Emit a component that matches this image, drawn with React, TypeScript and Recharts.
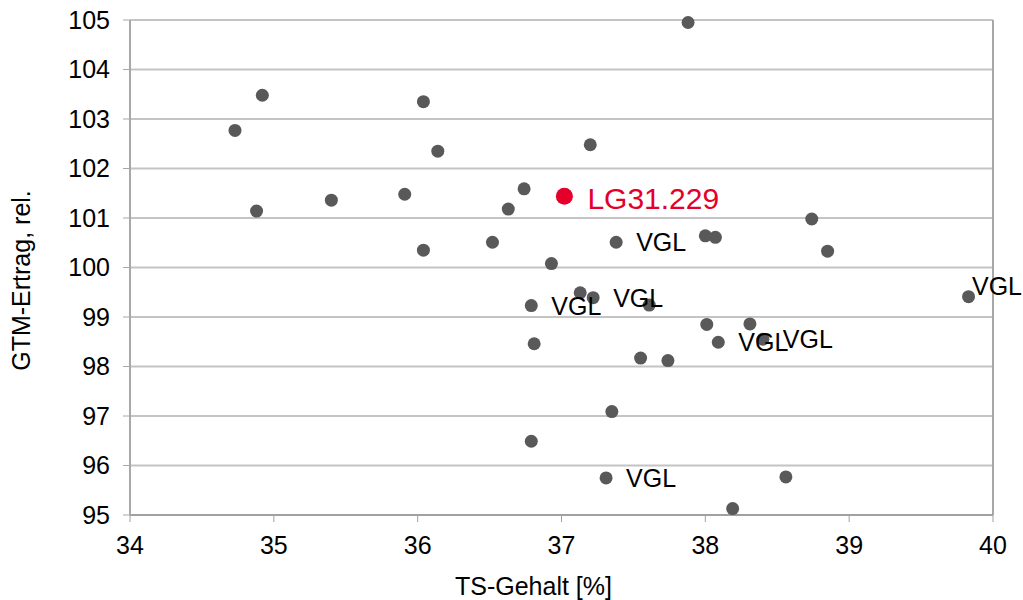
import React from "react";
import {
  ScatterChart, Scatter, XAxis, YAxis, CartesianGrid, ReferenceLine, LabelList, Label,
} from "recharts";

// TS-Gehalt [%] and GTM-Ertrag (rel.) per variety
const tsGehalt = [
  37.88, 34.92, 36.04, 34.73, 36.14, 37.2, 36.74, 35.91, 35.4, 34.88, 36.63, 38.74,
  36.52, 36.04, 37.38, 38.0, 38.07, 38.85, 36.93, 39.83, 37.13, 37.22, 36.79, 37.61,
  38.01, 38.31, 38.4, 38.09, 36.81, 37.55, 37.74, 37.35, 36.79, 37.31, 38.56, 38.19,
];
const gtmErtrag = [
  104.95, 103.48, 103.35, 102.77, 102.35, 102.48, 101.59, 101.48, 101.36, 101.14, 101.18, 100.98,
  100.51, 100.35, 100.51, 100.64, 100.61, 100.33, 100.08, 99.41, 99.49, 99.39, 99.23, 99.24,
  98.85, 98.86, 98.55, 98.49, 98.46, 98.17, 98.12, 97.09, 96.49, 95.75, 95.77, 95.13,
];
const pointLabels = [
  "", "", "", "", "", "", "", "", "", "", "", "",
  "", "", "VGL", "", "", "", "", "VGL", "", "VGL", "VGL", "",
  "", "", "VGL", "VGL", "", "", "", "", "", "VGL", "", "",
];

const highlightName = "LG31.229";
const highlightTs = [37.02];
const highlightGtm = [101.44];

const xTicks = [34, 35, 36, 37, 38, 39, 40];
const yTicks = [95, 96, 97, 98, 99, 100, 101, 102, 103, 104, 105];

const FONT = "'Liberation Sans', Arial, sans-serif";
const GREY = "#595959";
const RED = "#E4002B";
const WIDTH = 1023;

const points = tsGehalt.map((x, i) => ({ x, y: gtmErtrag[i], label: pointLabels[i] }));
const highlight = highlightTs.map((x, i) => ({ x, y: highlightGtm[i], label: highlightName }));

function VglLabel(props: any) {
  const { x, y, width, height, value } = props;
  if (!value) return null;
  const cx = x + width / 2;
  const cy = y + height / 2;
  let tx = cx + 20;
  let ty = cy;
  // Excel pushes labels back inside the chart area when they would overflow
  if (tx + 52 > WIDTH) {
    tx = WIDTH - 51;
    ty = cy - 11;
  }
  return (
    <text x={tx} y={ty} fill="#000" fontSize={25} fontFamily={FONT} dominantBaseline="central">
      {value}
    </text>
  );
}

function HighlightLabel(props: any) {
  const { x, y, width, height, value } = props;
  return (
    <text
      x={x + width / 2 + 23}
      y={y + height / 2 + 2}
      fill={RED}
      fontSize={30}
      fontFamily={FONT}
      dominantBaseline="central"
    >
      {value}
    </text>
  );
}

export default function App() {
  return (
    <div style={{ position: "absolute", left: 0, top: 0, background: "#fff" }}>
      <ScatterChart width={1023} height={600} margin={{ top: 20, right: 30, bottom: 0, left: 0 }}>
        <CartesianGrid horizontal vertical={false} stroke="#C4C4C4" strokeWidth={2} />
        <XAxis
          type="number"
          dataKey="x"
          domain={[34, 40]}
          ticks={xTicks}
          height={85}
          tickSize={7}
          tickMargin={14}
          axisLine={{ stroke: "#A0A0A0", strokeWidth: 2 }}
          tickLine={{ stroke: "#A0A0A0" }}
          tick={{ fill: "#000", fontSize: 25, fontFamily: FONT }}
        >
          <Label
            content={({ viewBox }: any) => (
              <text
                x={viewBox.x + viewBox.width / 2 - 28}
                y={viewBox.y + 80}
                textAnchor="middle"
                fill="#000"
                fontSize={25}
                fontFamily={FONT}
              >
                TS-Gehalt [%]
              </text>
            )}
          />
        </XAxis>
        <YAxis
          type="number"
          dataKey="y"
          domain={[95, 105]}
          ticks={yTicks}
          width={130}
          tickSize={7}
          tickMargin={13}
          axisLine={{ stroke: "#A8A8A8", strokeWidth: 2 }}
          tickLine={{ stroke: "#A8A8A8" }}
          tick={{ fill: "#000", fontSize: 25, fontFamily: FONT }}
        >
          <Label
            content={({ viewBox }: any) => {
              const cx = viewBox.x + 21;
              const cy = viewBox.y + viewBox.height / 2 + 13;
              return (
                <text
                  x={cx}
                  y={cy}
                  transform={`rotate(-90 ${cx} ${cy})`}
                  textAnchor="middle"
                  dominantBaseline="central"
                  fill="#000"
                  fontSize={25}
                  fontFamily={FONT}
                >
                  GTM-Ertrag, rel.
                </text>
              );
            }}
          />
        </YAxis>
        <ReferenceLine x={40} stroke="#A8A8A8" strokeWidth={2} />
        <Scatter
          data={points}
          isAnimationActive={false}
          shape={(p: any) => <circle cx={p.cx} cy={p.cy} r={6.5} fill={GREY} />}
        >
          <LabelList dataKey="label" content={VglLabel} />
        </Scatter>
        <Scatter
          data={highlight}
          isAnimationActive={false}
          shape={(p: any) => <circle cx={p.cx} cy={p.cy} r={8.5} fill={RED} />}
        >
          <LabelList dataKey="label" content={HighlightLabel} />
        </Scatter>
      </ScatterChart>
    </div>
  );
}
